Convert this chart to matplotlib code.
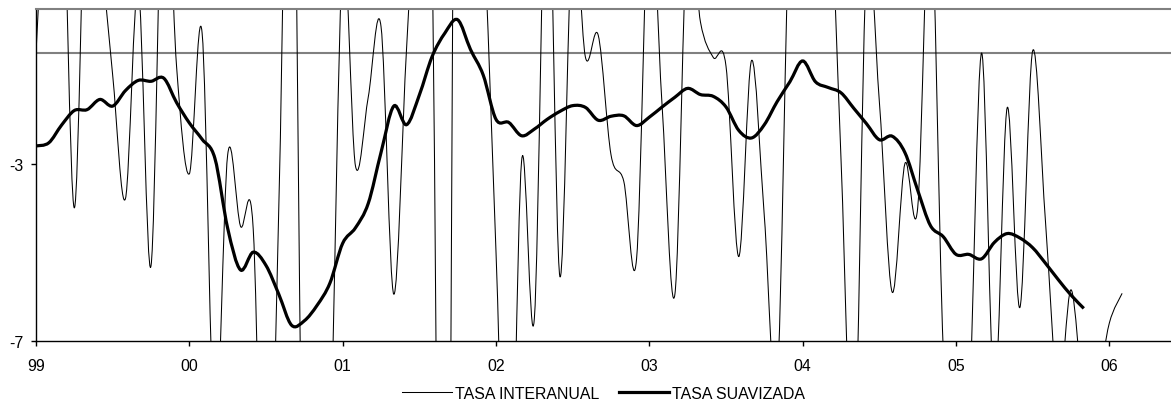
import numpy as np
import matplotlib
matplotlib.use('Agg')
import matplotlib.pyplot as plt
from matplotlib.path import Path
from matplotlib.patches import PathPatch
from matplotlib.lines import Line2D

# Datos mensuales desde enero de 1999
tasa_interanual = [-0.5, 4.5, 4.6, -4.0, 4.6, 2.0, -1.0, -3.79, 1.0, -5.31,
                   4.5, -0.8, -3.23, -0.05, -9.2, -2.8, -4.41, -4.48, -14.0, -4.0,
                   8.0, -14.0, -16.0, -10.0, 1.6, -3.05, -1.5, 0.1, -5.95, -0.4,
                   4.0, 1.5, -25.0, 16.0, 6.0, 2.5, -5.0, -13.0, -2.95, -6.5,
                   4.5, -5.55, 2.4, -0.6, -0.1, -2.8, -3.4, -5.15, 3.0, -1.7,
                   -5.95, 2.5, 0.2, -0.6, -0.8, -5.1, -0.67, -4.2, -8.0, 3.0,
                   5.0, 5.0, 4.2, -2.9, -10.0, 1.5, -1.6, -5.9, -3.0, -4.0,
                   3.0, -7.2, -11.0, -8.8, -0.5, -8.3, -1.74, -6.25, -0.45, -4.3,
                   -8.2, -5.85, -8.3, -8.1, -6.6, -5.93]

tasa_suavizada = [-2.60, -2.53, -2.13, -1.80, -1.78, -1.55, -1.70, -1.35, -1.12, -1.14,
                  -1.07, -1.62, -2.08, -2.45, -2.88, -4.46, -5.40, -5.00, -5.30, -5.95,
                  -6.65, -6.55, -6.20, -5.70, -4.80, -4.45, -3.90, -2.75, -1.70, -2.12,
                  -1.45, -0.58, -0.05, 0.25, -0.42, -1.00, -2.00, -2.07, -2.37, -2.22,
                  -2.00, -1.82, -1.69, -1.73, -2.02, -1.93, -1.92, -2.14, -1.95, -1.72,
                  -1.50, -1.30, -1.44, -1.48, -1.72, -2.25, -2.42, -2.12, -1.60, -1.15,
                  -0.68, -1.15, -1.28, -1.40, -1.75, -2.10, -2.46, -2.38, -2.75, -3.60,
                  -4.40, -4.65, -5.05, -5.05, -5.15, -4.78, -4.58, -4.68, -4.90, -5.25,
                  -5.62, -5.97, -6.27]

etiquetas_x = ['99', '00', '01', '02', '03', '04', '05', '06']
etiquetas_y = [-7, -3]


def curva_suave(valores):
    # línea suavizada tipo Excel (Bezier Catmull-Rom)
    x = np.arange(len(valores), dtype=float)
    pts = np.column_stack([x, np.asarray(valores, dtype=float)])
    ext = np.vstack([pts[0], pts, pts[-1]])
    verts = [pts[0]]
    codes = [Path.MOVETO]
    for i in range(len(pts) - 1):
        p0, p1, p2, p3 = ext[i], ext[i + 1], ext[i + 2], ext[i + 3]
        verts += [p1 + (p2 - p0) / 6, p2 - (p3 - p1) / 6, p2]
        codes += [Path.CURVE4] * 3
    return Path(verts, codes)


plt.rcParams['font.family'] = ['Liberation Sans', 'DejaVu Sans']
fs = 11.4

fig = plt.figure(figsize=(11.71, 4.10), dpi=100)
ax = fig.add_axes([36 / 1171, (410 - 341.7) / 410, 1135 / 1171, 332 / 410])

ax.axhline(-0.5, color='#808080', lw=1.5, zorder=1)
ax.add_patch(PathPatch(curva_suave(tasa_interanual), fill=False, ec='black', lw=0.75, zorder=2))
ax.add_patch(PathPatch(curva_suave(tasa_suavizada), fill=False, ec='black', lw=2.3, zorder=3))

ax.set_xlim(0, 1135 / 12.778)
ax.set_ylim(-7, 0.5)

ax.set_xticks(np.arange(len(etiquetas_x)) * 12)
ax.set_xticklabels(etiquetas_x, fontsize=fs)
ax.set_yticks(etiquetas_y)
ax.set_yticklabels([str(v) for v in etiquetas_y], fontsize=fs)
ax.tick_params(axis='x', direction='out', length=3.6, width=1, pad=9)
ax.tick_params(axis='y', direction='out', length=3.6, width=1, pad=5.5)

ax.spines['right'].set_visible(False)
ax.spines['top'].set_color('#808080')
ax.spines['top'].set_linewidth(1.5)
ax.spines['left'].set_linewidth(1.0)
ax.spines['bottom'].set_linewidth(1.0)

handles = [Line2D([], [], color='black', lw=0.75), Line2D([], [], color='black', lw=2.3)]
ax.legend(handles, ['TASA INTERANUAL', 'TASA SUAVIZADA'], loc='center',
          bbox_to_anchor=(0.5, -0.159), ncol=2, frameon=False, fontsize=fs,
          handlelength=3.16, handletextpad=0.2, columnspacing=1.2)

fig.savefig('out.png', dpi=100)
plt.close()
